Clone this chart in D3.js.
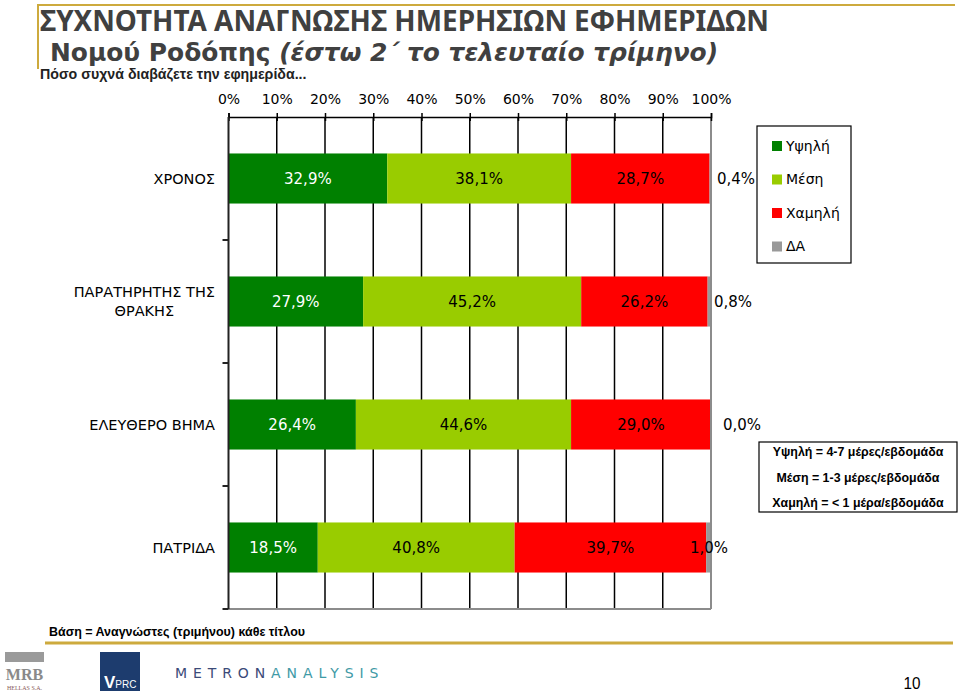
<!DOCTYPE html>
<html>
<head>
<meta charset="utf-8">
<script src="https://cdn.jsdelivr.net/npm/d3@7"></script>
<style>
  html, body { margin: 0; padding: 0; background: #fff; }
  svg { display: block; }
</style>
</head>
<body>
<svg id="chart" width="960" height="693"></svg>
<script>
// ---------- DATA ----------
const categories = ["ΧΡΟΝΟΣ", "ΠΑΡΑΤΗΡΗΤΗΣ ΤΗΣ ΘΡΑΚΗΣ", "ΕΛΕΥΘΕΡΟ ΒΗΜΑ", "ΠΑΤΡΙΔΑ"];
const categoryLines = [["ΧΡΟΝΟΣ"], ["ΠΑΡΑΤΗΡΗΤΗΣ ΤΗΣ", "ΘΡΑΚΗΣ"], ["ΕΛΕΥΘΕΡΟ ΒΗΜΑ"], ["ΠΑΤΡΙΔΑ"]];
const seriesNames = ["Υψηλή", "Μέση", "Χαμηλή", "ΔΑ"];
const highValues   = [32.9, 27.9, 26.4, 18.5];
const mediumValues = [38.1, 45.2, 44.6, 40.8];
const lowValues    = [28.7, 26.2, 29.0, 39.7];
const naValues     = [0.4, 0.8, 0.0, 1.0];
const tickValues = [0, 10, 20, 30, 40, 50, 60, 70, 80, 90, 100];
const definitions = ["Υψηλή = 4-7 μέρες/εβδομάδα", "Μέση = 1-3 μέρες/εβδομάδα", "Χαμηλή = < 1 μέρα/εβδομάδα"];
const titleLine1 = "ΣΥΧΝΟΤΗΤΑ ΑΝΑΓΝΩΣΗΣ ΗΜΕΡΗΣΙΩΝ ΕΦΗΜΕΡΙΔΩΝ";
const titleLine2a = "Νομού Ροδόπης ";
const titleLine2b = "(έστω 2΄ το τελευταίο τρίμηνο)";
const subtitle = "Πόσο συχνά διαβάζετε την εφημερίδα...";
const footnote = "Βάση = Αναγνώστες (τριμήνου) κάθε τίτλου";
const pageNumber = "10";

// ---------- STYLE / LAYOUT ----------
const colors = ["#008000", "#99CC00", "#FF0000", "#999999"];
const labelColors = ["#ffffff", "#000000", "#000000", "#000000"];
const naLabelNudge = [25, 22, 31, -2]; // offset of the ΔΑ label from the 100% line
const gold = "#CDAA3D";
const fmt = v => d3.format(".1f")(v).replace(".", ",") + "%";

const svg = d3.select("#chart");
const plot = { left: 228.5, right: 711, top: 117, bottom: 609 };

const x = d3.scaleLinear().domain([0, 100]).range([plot.left, plot.right]);
const y = d3.scaleBand().domain(categories).range([plot.top, plot.bottom])
  .paddingInner(0.593).paddingOuter(0.2965);

const seriesValues = [highValues, mediumValues, lowValues, naValues];
const rows = categories.map((c, i) => {
  let cum = 0;
  return seriesValues.map((arr, s) => {
    const seg = { cat: c, row: i, s, v: arr[i], x0: cum, x1: cum + arr[i] };
    cum += arr[i];
    return seg;
  });
});

// ---------- HEADER ----------
svg.append("path")
  .attr("d", `M38,69 V5 H955`)
  .attr("fill", "none").attr("stroke", gold).attr("stroke-width", 2);

svg.append("text").attr("x", 40).attr("y", 31)
  .attr("font-family", "'Noto Sans', 'DejaVu Sans', sans-serif")
  .attr("font-weight", "bold").attr("font-size", 27.9).attr("fill", "#404040")
  .text(titleLine1);

const t2 = svg.append("text").attr("x", 50).attr("y", 61)
  .attr("font-family", "'DejaVu Sans', Verdana, sans-serif")
  .attr("font-weight", "bold").attr("font-size", 24.9).attr("fill", "#404040");
t2.append("tspan").text(titleLine2a);
t2.append("tspan").attr("font-style", "italic").text(titleLine2b);

svg.append("text").attr("x", 40).attr("y", 79)
  .attr("font-family", "'Liberation Sans', Arial, sans-serif")
  .attr("font-weight", "bold").attr("font-size", 14.2).attr("fill", "#222")
  .text(subtitle);

// ---------- GRID ----------
const g = svg.append("g");
g.selectAll("line.grid").data(tickValues.slice(1, -1)).join("line")
  .attr("class", "grid")
  .attr("x1", d => x(d)).attr("x2", d => x(d))
  .attr("y1", plot.top).attr("y2", plot.bottom)
  .attr("stroke", "#000").attr("stroke-width", 1.5);

// ---------- BARS ----------
const segs = rows.flat();
g.selectAll("rect.bar").data(segs).join("rect")
  .attr("class", "bar")
  .attr("x", d => x(d.x0))
  .attr("width", d => Math.max(0, x(d.x1) - x(d.x0)))
  .attr("y", d => y(d.cat))
  .attr("height", y.bandwidth())
  .attr("fill", d => colors[d.s]);

// right / bottom frame (gray)
g.append("line").attr("x1", x(100)).attr("x2", x(100)).attr("y1", plot.top).attr("y2", plot.bottom)
  .attr("stroke", "#8c8c8c").attr("stroke-width", 2);
g.append("line").attr("x1", plot.left).attr("x2", x(100)).attr("y1", plot.bottom).attr("y2", plot.bottom)
  .attr("stroke", "#8c8c8c").attr("stroke-width", 2);

// ---------- AXES ----------
const topAxis = d3.axisTop(x).tickValues(tickValues).tickFormat(d => d + "%").tickSize(4).tickPadding(9);
const ta = svg.append("g").attr("transform", `translate(0,${plot.top})`).call(topAxis);
ta.select(".domain").attr("stroke", "#000").attr("stroke-width", 1.5);
ta.selectAll(".tick line").attr("stroke", "#000").attr("stroke-width", 1.5).attr("y2", -4);
ta.selectAll(".tick").append("line").attr("y1", 0).attr("y2", 4).attr("stroke", "#000").attr("stroke-width", 1.5);
ta.selectAll("text").attr("font-family", "'DejaVu Sans', Verdana, sans-serif").attr("font-size", 14).attr("fill", "#000");

const bandEdges = categories.map((c, i) => y(c) + y.bandwidth() + y.step() * y.paddingInner() / 2);
svg.append("line").attr("x1", plot.left).attr("x2", plot.left).attr("y1", plot.top).attr("y2", plot.bottom)
  .attr("stroke", "#222").attr("stroke-width", 2);
svg.selectAll("line.ytick").data(bandEdges).join("line").attr("class", "ytick")
  .attr("x1", plot.left - 6).attr("x2", plot.left).attr("y1", d => d).attr("y2", d => d)
  .attr("stroke", "#222").attr("stroke-width", 2);

// category labels
const catG = svg.append("g").attr("font-family", "'DejaVu Sans', Verdana, sans-serif")
  .attr("font-size", 14.5).attr("fill", "#000");
categories.forEach((c, i) => {
  const lines = categoryLines[i];
  const cy = y(c) + y.bandwidth() / 2;
  const lh = 19;
  const t = catG.append("text").attr("text-anchor", "middle");
  lines.forEach((ln, k) => {
    t.append("tspan").attr("x", 0).attr("y", cy + (k - (lines.length - 1) / 2) * lh).attr("dy", "0.35em").text(ln);
  });
  const w = d3.max(t.selectAll("tspan").nodes(), n => n.getComputedTextLength());
  t.selectAll("tspan").attr("x", 215 - w / 2);
});

// value labels
const lab = svg.append("g").attr("font-family", "'DejaVu Sans', Verdana, sans-serif").attr("font-size", 15);
lab.selectAll("text").data(segs).join("text")
  .attr("text-anchor", "middle")
  .attr("x", d => d.s === 3 ? x(100) + naLabelNudge[d.row] : x((d.x0 + d.x1) / 2))
  .attr("y", d => y(d.cat) + y.bandwidth() / 2)
  .attr("dy", "0.35em")
  .attr("fill", d => labelColors[d.s])
  .text(d => fmt(d.v));

// ---------- LEGEND ----------
const leg = svg.append("g");
leg.append("rect").attr("x", 757).attr("y", 126).attr("width", 94).attr("height", 137)
  .attr("fill", "#fff").attr("stroke", "#000").attr("stroke-width", 1.2);
const legItems = leg.selectAll("g.item").data(seriesNames).join("g").attr("class", "item")
  .attr("transform", (d, i) => `translate(772,${146 + i * 33.5})`);
legItems.append("rect").attr("x", 0).attr("y", -5).attr("width", 10).attr("height", 10)
  .attr("fill", (d, i) => colors[i]);
legItems.append("text").attr("x", 14).attr("dy", "0.35em")
  .attr("font-family", "'DejaVu Sans', Verdana, sans-serif").attr("font-size", 14).attr("fill", "#000")
  .text(d => d);

// definitions box
const def = svg.append("g");
def.append("rect").attr("x", 759).attr("y", 442).attr("width", 198).attr("height", 70)
  .attr("fill", "#fff").attr("stroke", "#000").attr("stroke-width", 1.2);
def.selectAll("text").data(definitions).join("text")
  .attr("x", 858).attr("y", (d, i) => 452 + i * 25.5).attr("dy", "0.35em")
  .attr("text-anchor", "middle")
  .attr("font-family", "'Liberation Sans', Arial, sans-serif").attr("font-weight", "bold")
  .attr("font-size", 12.4).attr("fill", "#000")
  .text(d => d);

// ---------- FOOTER ----------
svg.append("text").attr("x", 49).attr("y", 636)
  .attr("font-family", "'Liberation Sans', Arial, sans-serif")
  .attr("font-weight", "bold").attr("font-size", 13).attr("fill", "#000")
  .attr("textLength", 256).attr("lengthAdjust", "spacingAndGlyphs")
  .text(footnote);
svg.append("line").attr("x1", 45).attr("x2", 953).attr("y1", 643).attr("y2", 643)
  .attr("stroke", gold).attr("stroke-width", 3);

// MRB logo
svg.append("rect").attr("x", 5).attr("y", 652).attr("width", 39).attr("height", 10).attr("fill", "#9a9a9a");
svg.append("text").attr("x", 24.5).attr("y", 680).attr("text-anchor", "middle")
  .attr("font-family", "'Liberation Serif', serif").attr("font-weight", "bold").attr("font-size", 16)
  .attr("fill", "#8a8a8a").text("MRB");
svg.append("text").attr("x", 24.5).attr("y", 690).attr("text-anchor", "middle")
  .attr("font-family", "'Liberation Serif', serif").attr("font-size", 6)
  .attr("fill", "#8a5a5a").text("HELLAS S.A.");

// VPRC logo
svg.append("rect").attr("x", 100).attr("y", 652).attr("width", 40).attr("height", 39).attr("fill", "#1d3c6e");
const vp = svg.append("text").attr("x", 104).attr("y", 688)
  .attr("font-family", "'Liberation Sans', Arial, sans-serif").attr("fill", "#fff");
vp.append("tspan").attr("font-size", 17).attr("font-weight", "bold").text("V");
vp.append("tspan").attr("font-size", 10).text("PRC");

// METRONANALYSIS
const mt = svg.append("text").attr("x", 175).attr("y", 678)
  .attr("font-family", "'DejaVu Sans', sans-serif").attr("font-size", 14)
  .attr("letter-spacing", 5.9);
mt.append("tspan").attr("fill", "#3b4a78").text("METRON");
mt.append("tspan").attr("fill", "#3f9aa6").text("ANALYSIS");

svg.append("text").attr("x", 912).attr("y", 689).attr("text-anchor", "middle")
  .attr("font-family", "'Liberation Sans', Arial, sans-serif")
  .attr("font-size", 17).attr("fill", "#000")
  .attr("textLength", 17).attr("lengthAdjust", "spacingAndGlyphs")
  .text(pageNumber);
</script>
</body>
</html>
